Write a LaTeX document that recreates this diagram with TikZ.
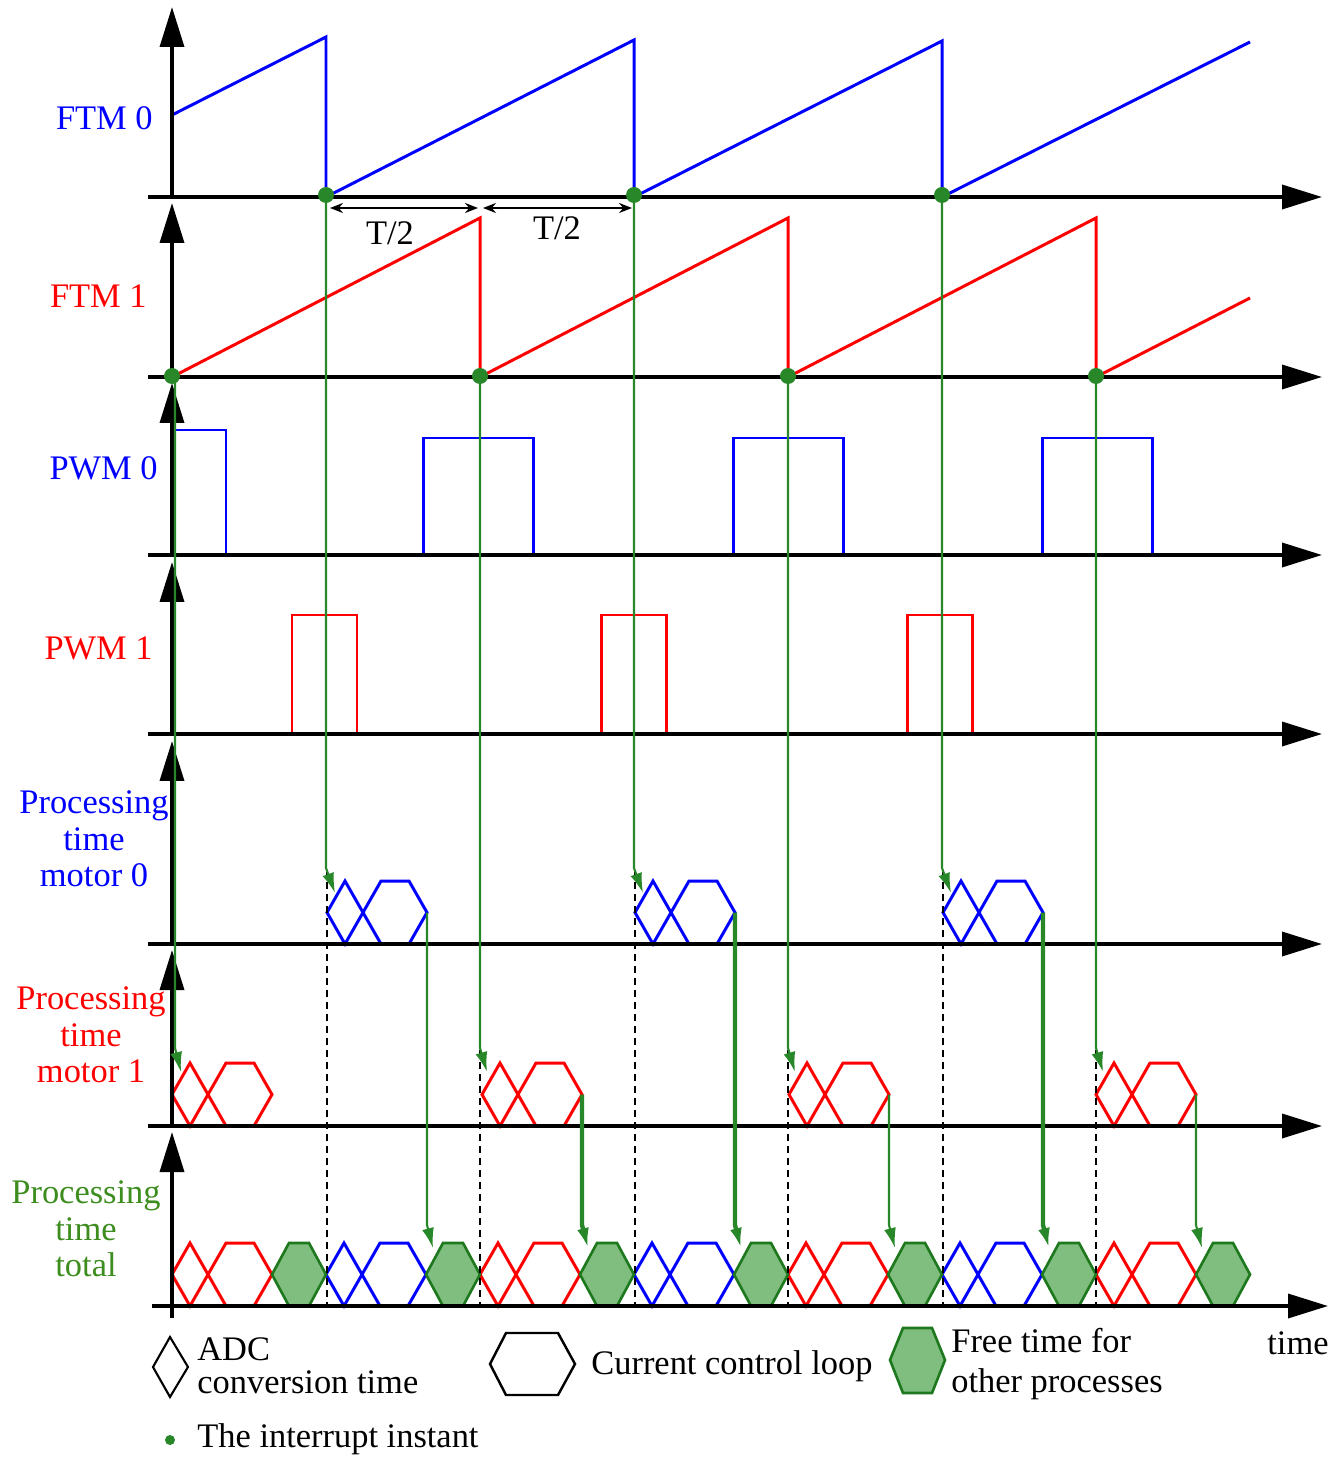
\documentclass[tikz,border=0pt]{standalone}
\usepackage{fontspec}
\setmainfont{Liberation Serif}
\usetikzlibrary{arrows.meta}

\definecolor{irqgreen}{RGB}{40,135,40}
\definecolor{txtgreen}{RGB}{60,140,30}
\definecolor{freefill}{RGB}{128,190,128}
\definecolor{freeline}{RGB}{30,120,30}

% ADC diamond + control loop hexagon: x start, baseline, colour
\newcommand{\ctrlblock}[3]{%
  \draw[sig,#3] (#1,#2-31.5) -- (#1+18,#2-63) -- (#1+36,#2-31.5)
      -- (#1+18,#2) -- cycle;
  \draw[sig,#3] (#1+36,#2-31.5) -- (#1+54,#2-63) -- (#1+82,#2-63)
      -- (#1+100,#2-31.5) -- (#1+82,#2) -- (#1+54,#2) -- cycle;}
% free time hexagon: x start, baseline
\newcommand{\freehex}[2]{%
  \filldraw[freetime] (#1,#2-31.5) -- (#1+17,#2-63) -- (#1+37,#2-63)
      -- (#1+54,#2-31.5) -- (#1+37,#2) -- (#1+17,#2) -- cycle;}

\begin{document}
\begin{tikzpicture}[x=0.02cm,y=-0.02cm,
    axis/.style={line width=2pt,-{Triangle[length=0.8cm,width=0.48cm]}},
    sig/.style={line width=1.7pt},
    irq/.style={irqgreen,line width=1.2pt,-{Latex[length=0.4cm,width=0.24cm]}},
    irqdot/.style={circle,fill=irqgreen,inner sep=0pt,minimum size=0.32cm},
    freetime/.style={fill=freefill,draw=freeline,line width=1.5pt},
    lbl/.style={font=\fontsize{19.6}{20.7}\selectfont,align=center,inner sep=0pt},
    dimarrow/.style={line width=0.9pt,{Stealth[length=0.26cm,width=0.2cm]}-{Stealth[length=0.26cm,width=0.2cm]}},
    dashline/.style={line width=0.9pt,dash pattern=on 0.14cm off 0.1cm}]
    \useasboundingbox (0,0) rectangle (1339,1459);

    % FTM 0 sawtooth
    \draw[sig,blue] (172,115) -- (326,37) -- (326,197) -- (634,40) -- (634,197)
        -- (942,41) -- (942,197) -- (1250,42);
    % FTM 1 sawtooth
    \draw[sig,red] (172,377) -- (480,218) -- (480,377) -- (788,218) -- (788,377)
        -- (1096,218) -- (1096,377) -- (1250,298);

    % PWM 0
    \draw[sig,blue] (172,430) -- (226,430) -- (226,555);
    \foreach \t in {423,733,1042}
        \draw[sig,blue] (\t,555) -- (\t,438) -- (\t+110,438) -- (\t+110,555);
    % PWM 1
    \foreach \t in {292,601,907}
        \draw[sig,red] (\t,734) -- (\t,615) -- (\t+65,615) -- (\t+65,734);

    % processing time, motor 0 and motor 1
    \foreach \t in {327,635,943} {\ctrlblock{\t}{944}{blue}}
    \foreach \t in {172,482,789,1096} {\ctrlblock{\t}{1126}{red}}

    % processing time, total
    \foreach \t in {172,480,788,1096} {\ctrlblock{\t}{1306}{red}}
    \foreach \t in {326,634,942} {\ctrlblock{\t}{1306}{blue}}
    \foreach \t in {272,426,580,734,888,1042,1196} {\freehex{\t}{1306}}

    % dashed instants
    \foreach \t in {327,635,943} \draw[dashline] (\t,870) -- (\t,1306);
    \foreach \t in {480,788,1096} \draw[dashline] (\t,1050) -- (\t,1306);

    % axes
    \foreach \yb in {197,377,555,734,944,1126}
        \draw[axis] (148,\yb) -- (1322,\yb);
    \draw[axis] (152,1306) -- (1328,1306);
    \foreach \yb/\ytop in {197/7,377/203,555/383,734/562,944/741,1126/950,1306/1132}
        \draw[axis] (172,\yb) -- (172,\ytop);
    \draw[line width=2pt] (172,1306) -- (172,1318);

    % T/2
    \draw[dimarrow] (330,208) -- (478,208);
    \draw[dimarrow] (483,208) -- (632,208);
    \node[lbl] (halfa) at (390,233) {T/2};
    \node[lbl] (halfb) at (557,228) {T/2};

    % interrupts
    \foreach \t in {326,634,942}
        \draw[irq] (\t,197) -- (\t,868) -- (\t+9,893);
    \draw[irq] (175,377) -- (175,1048) -- (181,1072);
    \foreach \t in {480,788,1096}
        \draw[irq] (\t,377) -- (\t,1048) -- (\t+7,1072);
    \foreach \t/\ys/\w in {427/912.5/1.2pt,735/912.5/2.5pt,1043/912.5/2.5pt,
                          582/1094.5/2.5pt,889/1094.5/1.2pt,1196/1094.5/1.2pt}
        \draw[irq,line width=\w] (\t,\ys) -- (\t,1225) -- (\t+6,1248);
    \foreach \t in {326,634,942} \node[irqdot] at (\t,195) {};
    \foreach \t in {172,480,788,1096} \node[irqdot] at (\t,376) {};

    % labels
    \node[lbl,blue,anchor=east] (ftmzero) at (153,118) {FTM 0};
    \node[lbl,red,anchor=east] (ftmone) at (147,296) {FTM 1};
    \node[lbl,blue,anchor=east] (pwmzero) at (158,468) {PWM 0};
    \node[lbl,red,anchor=east] (pwmone) at (153,648) {PWM 1};
    \node[lbl,blue] (proczero) at (94,839) {Processing\\time\\motor 0};
    \node[lbl,red] (procone) at (91,1035) {Processing\\time\\motor 1};
    \node[lbl,txtgreen] (proctotal) at (86,1229) {Processing\\time\\total};
    \node[lbl] (timelbl) at (1298,1343) {time};

    % legend
    \draw[line width=1.2pt] (153,1367) -- (170,1337) -- (188,1367) -- (170,1397) -- cycle;
    \node[lbl,align=left,anchor=west,font=\fontsize{19.6}{19}\selectfont]
        (adclbl) at (197,1366) {ADC\\conversion time};
    \draw[line width=1.4pt] (490,1364) -- (506,1333) -- (558,1333) -- (575,1364)
        -- (558,1395) -- (506,1395) -- cycle;
    \node[lbl,anchor=west] (looplbl) at (591,1366) {Current control loop};
    \filldraw[freetime] (890,1360) -- (903,1328) -- (932,1328) -- (945,1360)
        -- (932,1393) -- (903,1393) -- cycle;
    \node[lbl,align=left,anchor=west,font=\fontsize{19.6}{22.7}\selectfont]
        (freelbl) at (951,1364) {Free time for\\other processes};
    \node[irqdot,minimum size=0.2cm] (legdot) at (170,1440) {};
    \node[lbl,anchor=west] (irqlbl) at (197,1439) {The interrupt instant};
\end{tikzpicture}
\end{document}
